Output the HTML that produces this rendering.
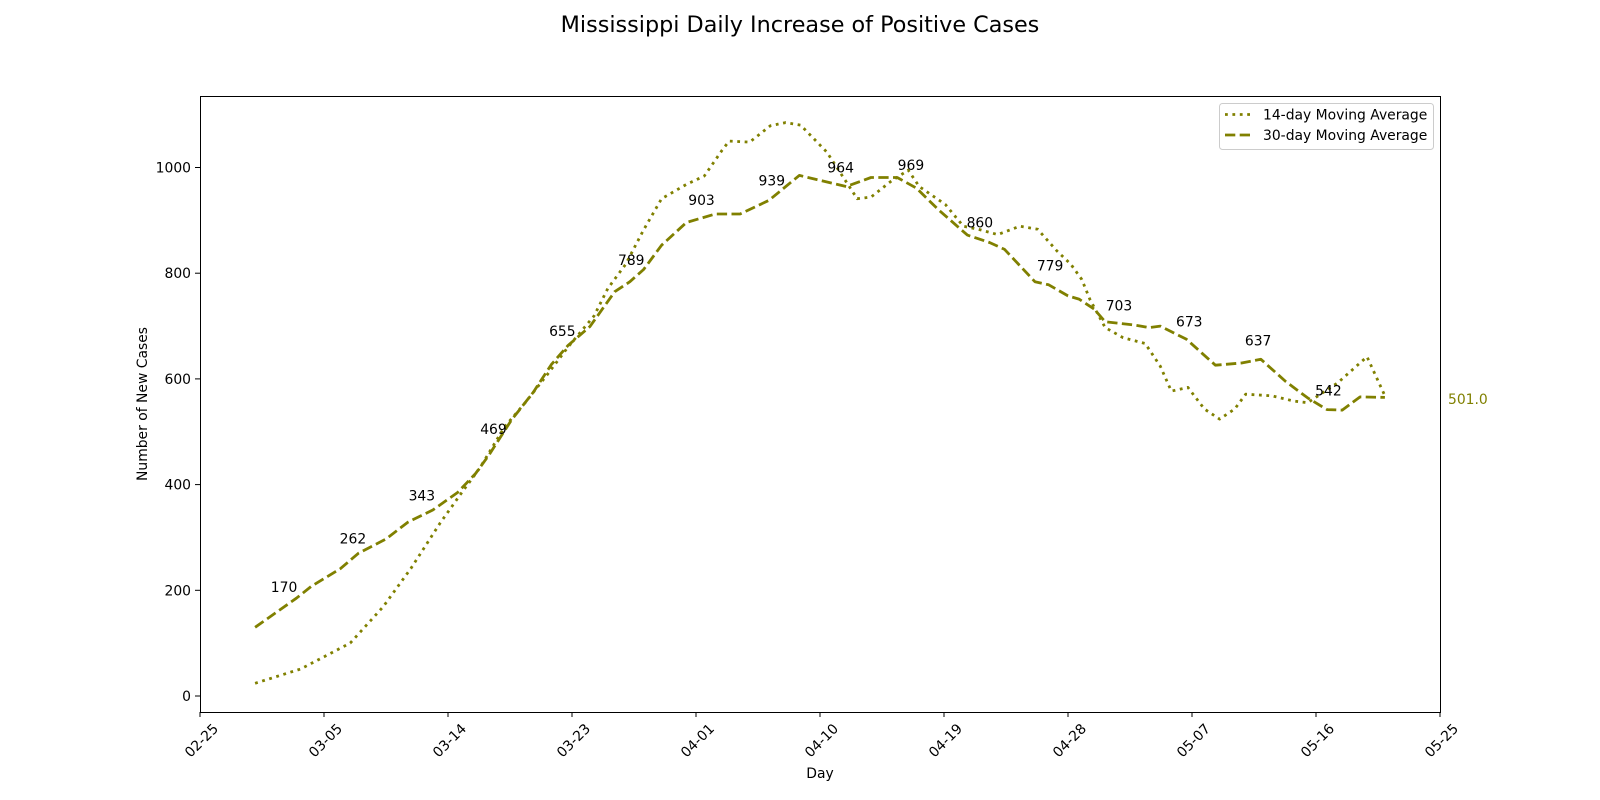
<!DOCTYPE html>
<html><head><meta charset="utf-8"><style>
html,body{margin:0;padding:0;background:#fff;}
svg{display:block;font-family:"DejaVu Sans","Liberation Sans",sans-serif;}
</style></head><body>
<svg id="chart" width="1600" height="800" viewBox="0 0 1600 800" xmlns="http://www.w3.org/2000/svg">
<text x="800" y="32" text-anchor="middle" font-size="22.3" fill="#000">Mississippi Daily Increase of Positive Cases</text>
<g id="grid"></g>
<g id="series"></g>
<g id="labels"></g>
<rect x="200.5" y="96.5" width="1240" height="616" fill="none" stroke="#000" stroke-width="1"/>
<text transform="translate(147,404) rotate(-90)" text-anchor="middle" font-size="13.9">Number of New Cases</text>
<text x="820" y="778" text-anchor="middle" font-size="13.9">Day</text>
<text x="1448" y="404" font-size="13.9" fill="#808000">501.0</text>
<g>
<rect x="1219.5" y="103.5" width="214" height="46" rx="3" fill="#fff" fill-opacity="0.8" stroke="#ccc"/>
<line x1="1225" y1="114.5" x2="1252" y2="114.5" stroke="#808000" stroke-width="2.8" stroke-dasharray="2.8 4.6"/>
<text x="1263" y="119.5" font-size="13.9">14-day Moving Average</text>
<line x1="1225" y1="135" x2="1252" y2="135" stroke="#808000" stroke-width="2.8" stroke-dasharray="10.3 4.4"/>
<text x="1263" y="140" font-size="13.9">30-day Moving Average</text>
</g>
</svg>
<script>
const days14 = [4,7.3,10.9,13.3,15.3,17.4,19.0,20.3,22.1,23.6,25.2,26.7,28.6,29.6,30.9,32.2,33.5,35.3,36.6,37.9,38.4,39.9,41.4,42.5,43.6,45.5,46.9,47.7,48.7,50.1,51.4,52.2,54.1,55.4,56.5,57.9,59.5,60.8,62.2,63.2,64.0,64.6,65.7,67.0,68.6,69.7,70.5,71.7,72.9,74.0,75.1,75.9,77.8,79.4,80.4,82.6,84.7,86];
const vals14 = [24,51,100,169,241,326,385,431,509,555,608,660,719,771,817,882,941,968,984,1033,1050,1048,1079,1085,1080,1029,973,941,944,973,995,964,930,889,883,873,889,883,842,817,788,750,697,678,667,624,577,584,543,524,543,571,568,558,555,593,642,568];
const days30 = [4,7.0,8.1,10.2,11.5,13.5,15.1,16.9,18.7,20.0,21.0,22.6,24.2,25.5,26.7,28.3,30.1,31.2,32.2,33.5,35.3,37.4,39.2,41.3,43.5,46.9,48.7,50.6,52.0,53.6,55.7,57.3,58.4,60.6,61.6,63.0,63.8,64.9,65.7,67.8,68.9,69.7,71.6,73.7,75.6,77.0,78.8,80.4,81.8,82.9,84.2,86];
const vals30 = [130,185,208,241,270,297,329,352,385,421,457,522,575,627,663,699,765,784,807,853,896,912,912,938,985,964,981,981,961,920,872,858,845,784,778,757,751,732,708,702,697,700,675,626,630,637,595,564,542,541,566,565];
const labelDays = [6.1,11.1,16.1,21.3,26.3,31.3,36.4,41.5,46.5,51.6,56.6,61.7,66.7,71.8,76.8,81.9];
const labelVals = [170,262,343,469,655,789,903,939,964,969,860,779,703,673,637,542];
const yTicks = [0,200,400,600,800,1000];
const xTickDays = [0,9,18,27,36,45,54,63,72,81,90];
const xTickLabels = ["02-25","03-05","03-14","03-23","04-01","04-10","04-19","04-28","05-07","05-16","05-25"];

const NS = "http://www.w3.org/2000/svg";
const X = d => 200 + d * (1240 / 90);
const Y = v => 696 - v * 0.5285;
function mk(tag, attrs, parent){const e=document.createElementNS(NS,tag);for(const k in attrs)e.setAttribute(k,attrs[k]);parent.appendChild(e);return e;}
const grid=document.getElementById('grid'), series=document.getElementById('series'), labels=document.getElementById('labels');

yTicks.forEach(v=>{
  const t=mk('line',{x1:195,x2:200,y1:Y(v),y2:Y(v),stroke:'#000','stroke-width':1},grid);
  
  
  const l=mk('text',{x:191,y:Y(v)+5,'text-anchor':'end','font-size':13.9},grid);
  l.textContent=v;
  
  
});
xTickDays.forEach((d,i)=>{
  const t=mk('line',{x1:X(d),x2:X(d),y1:712,y2:717,stroke:'#000','stroke-width':1},grid);
  
  
  const l=mk('text',{x:0,y:0,'text-anchor':'middle','dominant-baseline':'central','font-size':13.9,transform:`translate(${X(d)+2},741) rotate(-45)`},grid);
  l.textContent=xTickLabels[i];
  
  
});
function pts(ds,vs){return ds.map((d,i)=>X(d).toFixed(1)+','+Y(vs[i]).toFixed(1)).join(' ');}
const l14=mk('polyline',{points:pts(days14,vals14),fill:'none',stroke:'#808000','stroke-width':2.8,'stroke-dasharray':'2.8 4.6','stroke-linejoin':'round'},series);


const l30=mk('polyline',{points:pts(days30,vals30),fill:'none',stroke:'#808000','stroke-width':2.8,'stroke-dasharray':'10.3 4.4','stroke-linejoin':'round'},series);


labelDays.forEach((d,i)=>{
  const t=mk('text',{x:X(d),y:Y(labelVals[i])-18,'text-anchor':'middle','dominant-baseline':'central','font-size':13.9},labels);
  t.textContent=labelVals[i];
  
  
});
</script>
</body></html>
